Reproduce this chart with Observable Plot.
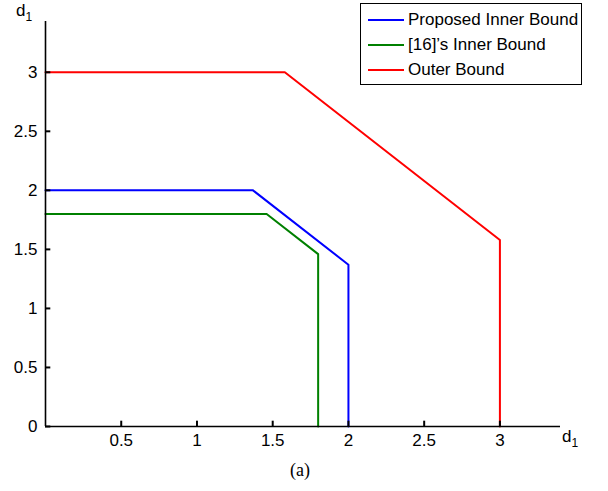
<!DOCTYPE html>
<html><head><meta charset="utf-8">
<script src="https://cdn.jsdelivr.net/npm/d3@7"></script>
<script src="https://cdn.jsdelivr.net/npm/@observablehq/plot@0.6"></script>
<style>
body{margin:0;background:#fff;}
#wrap{position:relative;width:608px;}
#legend{position:absolute;left:360px;top:3px;width:222px;height:82px;border:1.5px solid #000;background:#fff;font-family:"Liberation Sans",Arial,sans-serif;font-size:17px;box-sizing:border-box;}
.row{position:absolute;left:7px;height:20px;display:flex;align-items:center;}
.sw{width:36px;height:2.5px;margin-right:4px;}
#cap{font-family:"Liberation Serif","Times New Roman",serif;font-size:18px;text-align:center;width:600px;margin-top:8px;}
</style></head>
<body><div id="wrap"><div id="chart"></div><div id="legend"></div><div id="cap">(a)</div></div>
<script>
const seriesNames = ["Proposed Inner Bound", "[16]'s Inner Bound", "Outer Bound"];
const seriesColors = ["#0000ff", "#008000", "#ff0000"];
const proposedX = [0, 1.37, 2, 2];
const proposedY = [2, 2, 1.37, 0];
const ref16X = [0, 1.46, 1.8, 1.8];
const ref16Y = [1.8, 1.8, 1.46, 0];
const outerX = [0, 1.58, 3, 3];
const outerY = [3, 3, 1.58, 0];
const xTicks = [0.5, 1, 1.5, 2, 2.5, 3];
const yTicks = [0, 0.5, 1, 1.5, 2, 2.5, 3];

const data = [];
[[proposedX, proposedY], [ref16X, ref16Y], [outerX, outerY]].forEach(([xs, ys], i) => {
  xs.forEach((x, j) => data.push({series: seriesNames[i], x, y: ys[j]}));
});

const font = '"Liberation Sans", Arial, sans-serif';
const chart = Plot.plot({
  width: 608, height: 452,
  marginLeft: 45, marginRight: 48, marginTop: 21, marginBottom: 26,
  style: {fontFamily: font, fontSize: "17px", color: "#000", background: "#fff"},
  x: {domain: [0, 3.4]},
  y: {domain: [0, 3.43]},
  color: {domain: seriesNames, range: seriesColors},
  marks: [
    Plot.line(data, {x: "x", y: "y", z: "series", stroke: "series", strokeWidth: 2}),
    Plot.axisX({ticks: xTicks, tickSize: 0, tickPadding: 7, label: null, tickFormat: d => String(d), fontSize: 17}),
    Plot.axisY({ticks: yTicks, tickSize: 0, tickPadding: 8, label: null, tickFormat: d => String(d), fontSize: 17}),
    Plot.ruleY([0], {stroke: "#000", strokeWidth: 1.6}),
    Plot.ruleX([0], {stroke: "#000", strokeWidth: 1.6}),
    Plot.ruleX(xTicks, {x: d => d, y1: 0, y2: 0.045, stroke: "#000", strokeWidth: 2}),
    Plot.ruleY(yTicks, {y: d => d, x1: 0, x2: 0.035, stroke: "#000", strokeWidth: 2})
  ]
});
document.getElementById("chart").append(chart);

const svg = d3.select(chart);
function dlabel(x, y) {
  const t = svg.append("text").attr("x", x).attr("y", y).attr("font-family", font).attr("font-size", 17).attr("fill", "#000");
  t.append("tspan").text("d");
  t.append("tspan").attr("dy", 5).attr("font-size", 12).text("1");
}
dlabel(24, 16);
dlabel(570, 442);

const leg = document.getElementById("legend");
seriesNames.forEach((n, i) => {
  const r = document.createElement("div");
  r.className = "row"; r.style.top = (6 + i * 25) + "px";
  r.innerHTML = `<div class="sw" style="background:${seriesColors[i]}"></div><span>${n.replace("'", "’")}</span>`;
  leg.append(r);
});
</script></body></html>
